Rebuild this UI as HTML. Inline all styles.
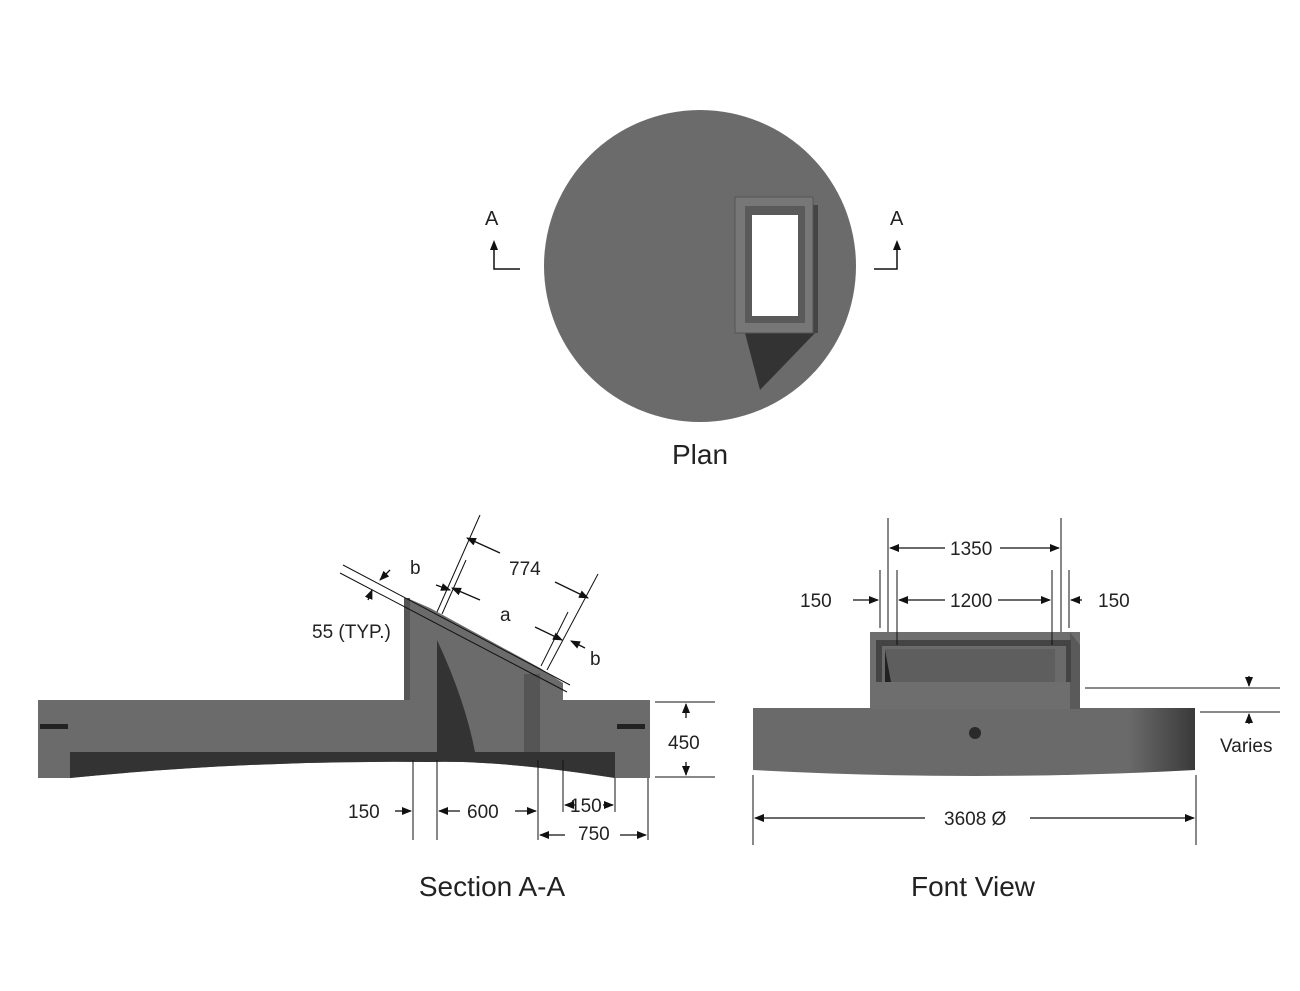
<!DOCTYPE html>
<html><head><meta charset="utf-8"><style>
body{margin:0;background:#fff}
svg{display:block}
text{font-family:"Liberation Sans",sans-serif;fill:#222}
</style></head><body>
<svg width="1300" height="991" viewBox="0 0 1300 991" xmlns="http://www.w3.org/2000/svg">
<defs>
<marker id="ar" markerWidth="10" markerHeight="8" refX="9" refY="4" orient="auto" markerUnits="userSpaceOnUse"><path d="M0,0 L10,4 L0,8 z" fill="#111"/></marker>
<linearGradient id="bg" x1="0" x2="1"><stop offset="0" stop-color="#6a6a6a"/><stop offset="0.85" stop-color="#6a6a6a"/><stop offset="1" stop-color="#3a3a3a"/></linearGradient>
</defs>
<!-- PLAN -->
<circle cx="700" cy="266" r="156" fill="#6b6b6b"/>
<polygon points="745,333 815,333 760,390" fill="#333"/>
<rect x="810" y="205" width="8" height="128" fill="#444"/>
<rect x="735" y="197" width="78" height="136" fill="#777" stroke="#555"/>
<rect x="745" y="206" width="60" height="117" fill="#5a5a5a"/>
<rect x="752" y="215" width="46" height="101" fill="#fff"/>
<g stroke="#111" stroke-width="1.5" fill="none">
<polyline points="494,248 494,269 520,269"/><polyline points="897,248 897,269 874,269"/>
</g>
<path d="M490,250 L494,240 L498,250z M893,250 L897,240 L901,250z" fill="#111"/>
<text x="485" y="225" font-size="20">A</text><text x="890" y="225" font-size="20">A</text>
<text x="700" y="464" font-size="28" text-anchor="middle">Plan</text>
<!-- SECTION -->
<path d="M38,700 L407,700 L407,598 L430,608 L540,668 L563,683 L563,700 L650,700 L650,778 L615,778 Q500,760 430,762 Q250,760 70,778 L38,778 Z" fill="#6b6b6b"/>
<path d="M70,752 L615,752 L615,778 Q500,760 430,762 Q250,760 70,778 Z" fill="#333"/>
<path d="M437,640 L437,752 L475,752 Q465,700 437,640 Z" fill="#333"/>
<rect x="524" y="674" width="16" height="78" fill="#555"/>
<rect x="404" y="598" width="6" height="102" fill="#555"/>
<rect x="40" y="724" width="28" height="5" fill="#222"/><rect x="617" y="724" width="28" height="5" fill="#222"/>
<g stroke="#111" stroke-width="1" fill="none">
<line x1="343" y1="565" x2="570" y2="685"/><line x1="340" y1="573" x2="567" y2="692"/>
<line x1="437" y1="612" x2="480" y2="515"/><line x1="442" y1="614" x2="466" y2="560"/>
<line x1="541" y1="666" x2="568" y2="612"/><line x1="547" y1="670" x2="598" y2="574"/>
<line x1="413" y1="760" x2="413" y2="840"/><line x1="437" y1="760" x2="437" y2="840"/>
<line x1="538" y1="760" x2="538" y2="840"/><line x1="563" y1="760" x2="563" y2="812"/>
<line x1="615" y1="778" x2="615" y2="812"/><line x1="648" y1="778" x2="648" y2="840"/>
<line x1="655" y1="702" x2="715" y2="702"/><line x1="655" y1="777" x2="715" y2="777"/>
</g>
<g stroke="#111" stroke-width="1.3" fill="none" marker-end="url(#ar)">
<line x1="500" y1="553" x2="467" y2="538"/><line x1="555" y1="582" x2="588" y2="598"/>
<line x1="480" y1="600" x2="452" y2="588"/><line x1="535" y1="627" x2="562" y2="640"/>
<line x1="436" y1="585" x2="450" y2="590"/><line x1="585" y1="648" x2="571" y2="641"/>
<line x1="390" y1="570" x2="380" y2="580"/><line x1="368" y1="600" x2="372" y2="590"/>
<line x1="395" y1="811" x2="411" y2="811"/><line x1="460" y1="811" x2="439" y2="811"/>
<line x1="515" y1="811" x2="536" y2="811"/>
<line x1="575" y1="805" x2="565" y2="805"/><line x1="603" y1="805" x2="613" y2="805"/>
<line x1="565" y1="835" x2="540" y2="835"/><line x1="620" y1="835" x2="646" y2="835"/>
<line x1="686" y1="718" x2="686" y2="704"/><line x1="686" y1="762" x2="686" y2="775"/>
</g>
<g font-size="19">
<text x="410" y="574">b</text><text x="509" y="575">774</text><text x="500" y="621">a</text><text x="590" y="665">b</text>
<text x="312" y="638">55 (TYP.)</text><text x="668" y="749">450</text>
<text x="348" y="818">150</text><text x="467" y="818">600</text><text x="570" y="812">150</text><text x="578" y="840">750</text>
</g>
<text x="492" y="896" font-size="28" text-anchor="middle">Section A-A</text>
<!-- FRONT VIEW -->
<path d="M753,708 L1195,708 L1195,770 Q975,782 753,770 Z" fill="url(#bg)"/>
<rect x="870" y="632" width="210" height="77" fill="#6e6e6e"/>
<polygon points="1070,632 1080,645 1080,709 1070,709" fill="#5a5a5a"/>
<rect x="876" y="640" width="195" height="42" fill="#444"/>
<rect x="882" y="646" width="184" height="36" fill="#6a6a6a"/>
<rect x="885" y="649" width="170" height="33" fill="#5e5e5e"/>
<path d="M885,682 L885,650 L891,682z" fill="#222"/>
<circle cx="975" cy="733" r="6" fill="#2a2a2a"/>
<g stroke="#111" stroke-width="1" fill="none">
<line x1="888" y1="518" x2="888" y2="632"/><line x1="1061" y1="518" x2="1061" y2="632"/>
<line x1="880" y1="570" x2="880" y2="628"/><line x1="897" y1="570" x2="897" y2="645"/>
<line x1="1052" y1="570" x2="1052" y2="645"/><line x1="1069" y1="570" x2="1069" y2="628"/>
<line x1="1085" y1="688" x2="1280" y2="688"/><line x1="1200" y1="712" x2="1280" y2="712"/>
<line x1="753" y1="775" x2="753" y2="845"/><line x1="1196" y1="775" x2="1196" y2="845"/>
</g>
<g stroke="#111" stroke-width="1.3" fill="none" marker-end="url(#ar)">
<line x1="945" y1="548" x2="890" y2="548"/><line x1="1000" y1="548" x2="1059" y2="548"/>
<line x1="945" y1="600" x2="899" y2="600"/><line x1="998" y1="600" x2="1050" y2="600"/>
<line x1="853" y1="600" x2="878" y2="600"/><line x1="1082" y1="600" x2="1071" y2="600"/>
<line x1="1249" y1="676" x2="1249" y2="686"/><line x1="1249" y1="724" x2="1249" y2="714"/>
<line x1="925" y1="818" x2="755" y2="818"/><line x1="1030" y1="818" x2="1194" y2="818"/>
</g>
<g font-size="19">
<text x="950" y="555">1350</text><text x="950" y="607">1200</text>
<text x="800" y="607">150</text><text x="1098" y="607">150</text>
<text x="1220" y="752">Varies</text><text x="944" y="825">3608 Ø</text>
</g>
<text x="973" y="896" font-size="28" text-anchor="middle">Font View</text>
</svg>
</body></html>
